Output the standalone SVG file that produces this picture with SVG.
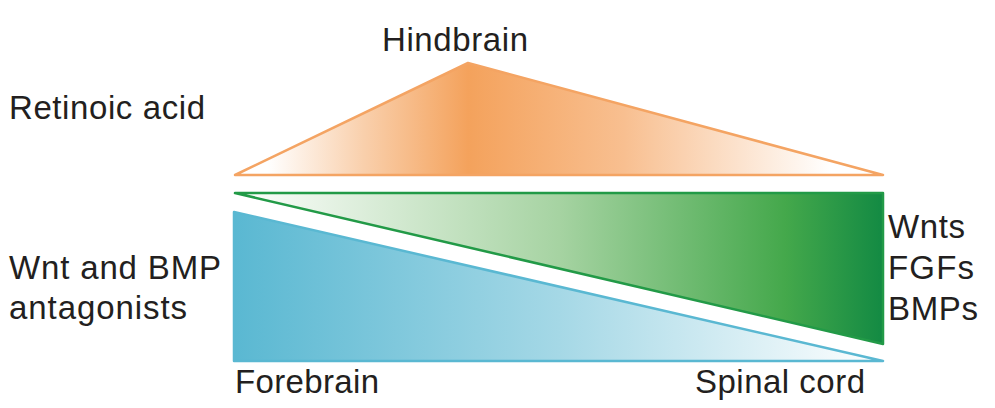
<svg xmlns="http://www.w3.org/2000/svg" width="995" height="408" viewBox="0 0 995 408">
<style>
text { font-family: "Liberation Sans", Arial, sans-serif; font-size: 33px; fill: #231f20; }
</style>
<defs>
<linearGradient id="gOrange" gradientUnits="userSpaceOnUse" x1="235" y1="0" x2="883" y2="0">
<stop offset="0.05" stop-color="#ffffff"/>
<stop offset="0.2" stop-color="#f9cfab"/>
<stop offset="0.36" stop-color="#f4a25c"/>
<stop offset="0.6" stop-color="#f8bf90"/>
<stop offset="0.92" stop-color="#ffffff"/>
</linearGradient>
<linearGradient id="gGreen" gradientUnits="userSpaceOnUse" x1="235" y1="0" x2="883" y2="0">
<stop offset="0" stop-color="#ffffff"/>
<stop offset="0.5" stop-color="#a6d3a2"/>
<stop offset="0.85" stop-color="#44a84b"/>
<stop offset="1" stop-color="#138a43"/>
</linearGradient>
<linearGradient id="gBlue" gradientUnits="userSpaceOnUse" x1="235" y1="0" x2="883" y2="0">
<stop offset="0" stop-color="#5ab8d2"/>
<stop offset="0.5" stop-color="#a5d8e6"/>
<stop offset="1" stop-color="#ffffff"/>
</linearGradient>
</defs>
<g id="retinoic-acid-gradient">
<polygon points="235,175 468,63 883,175" fill="url(#gOrange)" stroke="#f4a463" stroke-width="2.5" stroke-linejoin="round"/>
</g>
<g id="wnt-fgf-bmp-gradient">
<polygon points="235,193 883,193 883,344" fill="url(#gGreen)" stroke="#229a47" stroke-width="2.5" stroke-linejoin="round"/>
</g>
<g id="antagonist-gradient">
<polygon points="234,212 883,361 234,361" fill="url(#gBlue)" stroke="#5ab8d2" stroke-width="2.5" stroke-linejoin="round"/>
</g>
<g id="connectors"></g>
<g id="labels">
<text x="382" y="51" textLength="146">Hindbrain</text>
<text x="9" y="119" textLength="196">Retinoic acid</text>
<text x="9" y="279" textLength="212">Wnt and BMP</text>
<text x="9" y="319" textLength="178">antagonists</text>
<text x="888" y="238" textLength="77">Wnts</text>
<text x="888" y="279" textLength="86">FGFs</text>
<text x="888" y="320" textLength="90">BMPs</text>
<text x="235" y="393" textLength="144">Forebrain</text>
<text x="695" y="393" textLength="170">Spinal cord</text>
</g>
</svg>
